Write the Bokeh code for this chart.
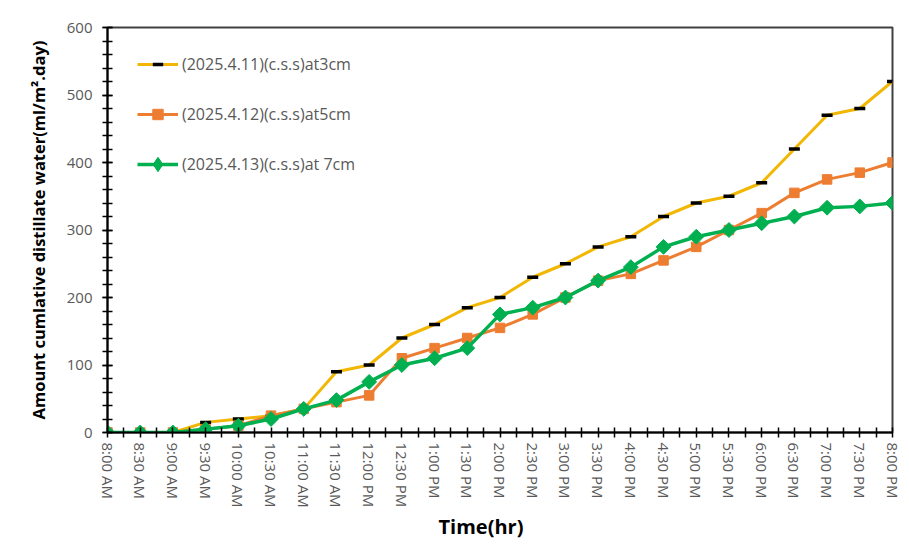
import math
from bokeh.plotting import figure
from bokeh.models import FixedTicker, SingleIntervalTicker, Range1d, Legend, LegendItem, Title
from bokeh.embed import file_html
from bokeh.resources import INLINE

times = ["8:00 AM", "8:30 AM", "9:00 AM", "9:30 AM", "10:00 AM", "10:30 AM", "11:00 AM",
         "11:30 AM", "12:00 PM", "12:30 PM", "1:00 PM", "1:30 PM", "2:00 PM", "2:30 PM",
         "3:00 PM", "3:30 PM", "4:00 PM", "4:30 PM", "5:00 PM", "5:30 PM", "6:00 PM",
         "6:30 PM", "7:00 PM", "7:30 PM", "8:00 PM"]
s3cm = [0, 0, 0, 15, 20, 25, 35, 90, 100, 140, 160, 185, 200, 230, 250, 275, 290, 320,
        340, 350, 370, 420, 470, 480, 520]
s5cm = [0, 0, 0, 5, 10, 25, 35, 45, 55, 110, 125, 140, 155, 175, 200, 225, 235, 255,
        275, 300, 325, 355, 375, 385, 400]
s7cm = [0, 0, 0, 5, 10, 20, 35, 48, 75, 100, 110, 125, 175, 185, 200, 225, 245, 275,
        290, 300, 310, 320, 333, 335, 340]
names = ["(2025.4.11)(c.s.s)at3cm", "(2025.4.12)(c.s.s)at5cm", "(2025.4.13)(c.s.s)at 7cm"]

xs = list(range(len(times)))

FONT = "Open Sans"
p = figure(width=909, height=555, output_backend="svg", toolbar_location=None,
           x_range=Range1d(0, len(times) - 1), y_range=Range1d(0, 600),
           min_border_left=107, min_border_right=17, min_border_top=27, min_border_bottom=123)
p.background_fill_color = "white"
p.border_fill_color = "white"
p.grid.visible = False
p.outline_line_color = "#404040"
p.outline_line_width = 2
p.outline_line_alpha = 1

# x axis
p.xaxis.ticker = FixedTicker(ticks=xs, minor_ticks=[i + 0.5 for i in xs[:-1]])
p.xaxis.major_label_overrides = {i: t for i, t in enumerate(times)}
p.xaxis.major_label_orientation = "vertical"
p.xaxis.major_label_text_font = FONT
p.xaxis.major_label_text_font_size = "15px"
p.xaxis.major_label_text_color = "#595959"
p.xaxis.major_label_standoff = 5

xtitle = Title(text="Time(hr)", align="left", offset=331, text_font=FONT,
               text_font_size="20px", text_font_style="bold", text_color="black",
               standoff=0)
p.add_layout(xtitle, "below")

# y axis
p.yaxis.ticker = SingleIntervalTicker(interval=100, num_minor_ticks=5)
p.yaxis.major_label_text_font = FONT
p.yaxis.major_label_text_font_size = "15px"
p.yaxis.major_label_text_color = "#595959"
p.yaxis.major_label_standoff = 10
p.yaxis.axis_label = "Amount cumlative distillate water(ml/m\u00b2.day)"
p.yaxis.axis_label_text_font = FONT
p.yaxis.axis_label_text_font_size = "16.5px"
p.yaxis.axis_label_text_font_style = "bold"
p.yaxis.axis_label_text_color = "black"
p.yaxis.axis_label_standoff = 14

for ax in (p.xaxis, p.yaxis):
    ax.axis_line_color = "black"
    ax.axis_line_width = 2
    ax.major_tick_line_color = "black"
    ax.major_tick_line_width = 1.5
    ax.major_tick_in = 5
    ax.major_tick_out = 5
    ax.minor_tick_line_color = "black"
    ax.minor_tick_line_width = 1.5
    ax.minor_tick_in = 5
    ax.minor_tick_out = 5

c3, c5, c7 = "#F2B705", "#ED7D31", "#00B050"

l1 = p.line(xs, s3cm, line_color=c3, line_width=3)
m1 = p.scatter(xs, s3cm, marker="dash", size=11, line_color="black", line_width=3.5)
l2 = p.line(xs, s5cm, line_color=c5, line_width=3)
m2 = p.scatter(xs, s5cm, marker="square", size=9.5, fill_color=c5, line_color=c5)
l3 = p.line(xs, s7cm, line_color=c7, line_width=3.5)
# diamond glyph used for the legend symbol (hidden under the rotated squares)
m3_leg = p.scatter(xs, s7cm, marker="diamond", size=9, fill_color=c7, line_color=c7)
m3 = p.scatter(xs, s7cm, marker="square", angle=math.pi / 4, size=10.5,
               fill_color=c7, line_color=c7)


def style_legend(lg, gh, sp):
    lg.border_line_color = None
    lg.background_fill_alpha = 0
    lg.padding = 0
    lg.margin = 0
    lg.spacing = sp
    lg.glyph_width = 41
    lg.glyph_height = gh
    lg.label_height = gh
    lg.label_standoff = 4
    lg.label_text_font = FONT
    lg.label_text_font_size = "16px"
    lg.label_text_color = "#595959"


legA = Legend(items=[LegendItem(label=names[0], renderers=[l1, m1]),
                     LegendItem(label=names[1], renderers=[l2, m2])],
              location=(30, 305), orientation="vertical")
style_legend(legA, 26, 24)
legB = Legend(items=[LegendItem(label=names[2], renderers=[l3, m3_leg])],
              location=(30, 250), orientation="vertical")
style_legend(legB, 36, 0)
p.add_layout(legA, "center")
p.add_layout(legB, "center")

open("out.html", "w").write(file_html(p, INLINE))
